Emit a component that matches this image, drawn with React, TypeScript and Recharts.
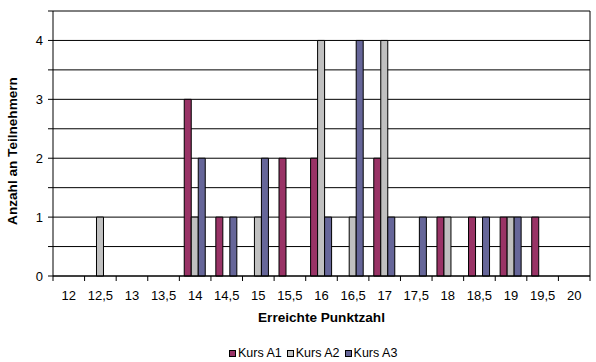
import React from "react"
import { BarChart, Bar, XAxis, YAxis, CartesianGrid } from "recharts"

const scores = ["12", "12,5", "13", "13,5", "14", "14,5", "15", "15,5", "16", "16,5", "17", "17,5", "18", "18,5", "19", "19,5", "20"]
const kursA1 = [0, 0, 0, 0, 3, 1, 0, 2, 2, 0, 2, 0, 1, 1, 1, 1, 0]
const kursA2 = [0, 1, 0, 0, 1, 0, 1, 0, 4, 1, 4, 0, 1, 0, 1, 0, 0]
const kursA3 = [0, 0, 0, 0, 2, 1, 2, 0, 1, 4, 1, 1, 0, 1, 1, 0, 0]
const yTicks = [0, 0.5, 1, 1.5, 2, 2.5, 3, 3.5, 4, 4.5]

const series = [
  { key: "Kurs A1", values: kursA1, color: "#993366" },
  { key: "Kurs A2", values: kursA2, color: "#C0C0C0" },
  { key: "Kurs A3", values: kursA3, color: "#666699" },
]

const data = scores.map((score, i) => {
  const row: Record<string, string | number> = { score }
  series.forEach((s) => (row[s.key] = s.values[i]))
  return row
})

const font = "'Liberation Sans', Arial, sans-serif"

// excel puts the x ticks between the categories, labels in the middle
function XTick(props: any) {
  const { x, y, payload, index } = props
  const half = payload.offset ?? 15.8
  return (
    <g>
      <line x1={x - half} x2={x - half} y1={y} y2={y + 5} stroke="#000" />
      {index === scores.length - 1 && <line x1={x + half} x2={x + half} y1={y} y2={y + 5} stroke="#000" />}
      <text x={x} y={y + 24} textAnchor="middle" fill="#000" fontSize={13} fontFamily={font}>
        {payload.value}
      </text>
    </g>
  )
}

export default function App() {
  return (
    <div style={{ position: "absolute", left: 0, top: 0, width: 596, height: 362, background: "#fff" }}>
      <BarChart
        width={596}
        height={362}
        data={data}
        margin={{ top: 11, right: 6, bottom: 0, left: 0 }}
        barCategoryGap="15.5%"
        barGap={0}
      >
        <CartesianGrid
          stroke="#000"
          horizontal
          vertical
          verticalCoordinatesGenerator={(p: any) => [p.offset.left + p.offset.width]}
        />
        <XAxis
          dataKey="score"
          interval={0}
          height={86}
          stroke="#000"
          tickLine={false}
          tickSize={0}
          tickMargin={0}
          tick={<XTick />}
          label={{
            content: (p: any) => {
              const vb = p.viewBox
              return (
                <text x={vb.x + vb.width / 2} y={vb.y + 46} textAnchor="middle" fontWeight="bold" fontSize={13.6} fontFamily={font} fill="#000">
                  Erreichte Punktzahl
                </text>
              )
            },
          }}
        />
        <YAxis
          width={53}
          domain={[0, 4.5]}
          ticks={yTicks}
          interval={0}
          stroke="#000"
          tickSize={5}
          tickMargin={5}
          tick={{ fill: "#000", fontSize: 13, fontFamily: font }}
          tickFormatter={(v: number) => (Number.isInteger(v) ? String(v) : "")}
          label={{
            content: () => (
              <text
                x={17}
                y={151}
                transform="rotate(-90 17 151)"
                textAnchor="middle"
                fontWeight="bold"
                fontSize={13.6}
                fontFamily={font}
                fill="#000"
              >
                Anzahl an Teilnehmern
              </text>
            ),
          }}
        />
        {series.map((s) => (
          <Bar key={s.key} dataKey={s.key} fill={s.color} stroke="#000" strokeWidth={1} isAnimationActive={false} />
        ))}
      </BarChart>
      <div
        style={{
          position: "absolute",
          left: 229,
          top: 345,
          height: 16,
          display: "flex",
          alignItems: "center",
          fontFamily: font,
          fontSize: 12.5,
          lineHeight: "16px",
          color: "#000",
        }}
      >
        {series.map((s) => (
          <div key={s.key} style={{ display: "flex", alignItems: "center", marginRight: 5 }}>
            <span style={{ width: 5, height: 5, background: s.color, border: "1px solid #000", marginRight: 2 }} />
            <span>{s.key}</span>
          </div>
        ))}
      </div>
    </div>
  )
}
